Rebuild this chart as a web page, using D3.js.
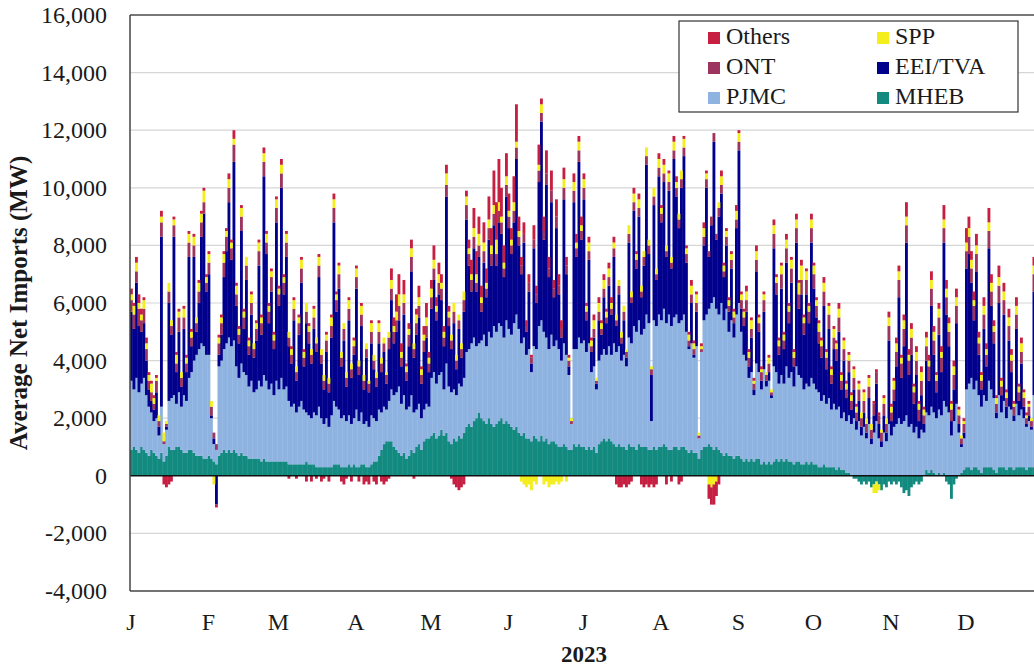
<!DOCTYPE html>
<html>
<head>
<meta charset="utf-8">
<script src="https://cdn.jsdelivr.net/npm/d3@7"></script>
<style>
  body { margin: 0; background: #fff; }
  svg text { font-family: "Times New Roman", "Liberation Serif", Tinos, "DejaVu Serif", serif; fill: #1a1a1a; }
</style>
</head>
<body>
<svg id="chart" width="1034" height="668" font-family="Liberation Serif, serif"></svg>
<script>
// daily average net imports by interface, MW, Jan 1 - Dec 31 2023
var mheb = [
  900,1000,900,800,1000,900,800,700,900,800,700,600,800,500,700,1000,900,900,1000,1000,900,800,800,900,900,800,700,700,700,600,600,
  700,600,500,400,700,800,900,800,900,800,900,800,700,800,700,700,600,600,600,600,600,500,600,500,500,500,500,500,
  500,500,500,500,400,400,400,400,400,400,400,500,400,400,400,300,300,300,300,300,300,300,400,400,400,300,300,300,400,300,400,
  300,300,400,400,300,300,400,500,500,700,900,1100,1200,1200,1200,1000,900,800,700,800,600,700,900,800,1000,1100,900,1200,1300,1300,
  1400,1500,1300,1400,1600,1400,1500,1200,1100,1300,1200,1400,1300,1500,1700,1800,1700,1900,2000,2200,2000,1900,1800,2000,1800,1700,1800,1900,2000,1800,1900,
  1800,1700,1600,1700,1500,1400,1500,1300,1300,1200,1400,1300,1200,1400,1200,1300,1100,1200,1200,1100,1000,1000,1100,1000,900,900,1100,1000,1100,1000,
  1000,900,1000,900,1000,800,1100,1200,1300,1200,1300,1200,1100,1000,1100,1000,1000,900,1100,1000,1000,900,1100,1000,1000,1000,900,900,1000,900,1000,
  1000,1100,1000,900,900,1000,1000,900,1000,1000,900,800,900,800,800,600,900,1000,1000,1100,1000,900,1000,900,800,700,800,700,700,600,700,
  700,600,500,600,500,600,500,600,600,400,500,400,500,400,500,600,500,600,500,600,500,500,400,500,500,400,400,500,400,500,
  400,400,300,300,400,300,300,300,300,200,300,200,200,100,100,0,-100,-100,-200,-300,-200,-300,-200,-400,-300,-200,-300,-500,-300,-400,-200,
  -300,-200,-300,-200,-400,-600,-500,-700,-400,-300,-200,-300,-200,0,200,100,200,100,0,100,0,100,-200,-300,-800,-300,-100,0,100,200,
  300,300,200,300,300,200,100,300,300,300,300,200,100,300,300,300,200,300,300,200,300,300,300,300,200,300,300,300,300,300,300
];
var pjmc = [
  2400,2000,2500,2100,2200,2500,2000,1700,1300,1100,1300,800,1600,600,900,1600,1800,1900,1500,1900,1500,2000,1800,2500,2700,3200,3500,3700,3900,3900,3600,
  3500,1400,600,500,3100,3200,3500,3800,3900,3700,3800,3000,2700,3100,2900,2800,2500,2700,2300,2400,2700,2600,2900,2800,2500,2700,2300,2800,
  2500,2900,2500,2600,2200,2000,2100,1800,2000,2200,1900,1700,1700,1600,1800,1800,2100,1700,1500,1700,1400,1800,2200,2000,1900,1700,1800,1600,1700,1500,1600,
  2000,1600,1800,1400,1600,1400,1700,1500,1400,1600,1300,1300,1100,1400,1800,1800,2000,2300,1800,2000,1700,1700,1900,1400,1300,1400,1100,1100,1200,1100,
  2000,2100,1900,2100,2000,1600,2400,1900,1800,1700,1600,1800,1800,1900,2600,2600,2900,2900,2500,2400,2700,3000,2700,3000,3000,3500,3200,3400,3200,3000,3500,
  3300,3200,3700,3900,3600,3200,3300,2900,3100,2400,3100,3100,4000,4000,3800,3500,3300,3700,3300,3600,3400,3000,3500,3200,2600,900,3300,3400,3700,3600,
  3700,3400,3600,2700,2800,2200,2900,3000,3100,3000,3200,3000,3500,3300,3400,3000,3200,2900,3700,3600,4200,4100,4300,3900,4100,4600,4400,1000,4400,4300,4600,
  4400,4700,4300,4700,4300,4500,4600,4400,4400,4600,4100,3600,3700,3300,3700,700,3400,4400,4600,4700,5000,5300,4800,4700,5200,4700,5000,4300,4700,4200,4900,
  5300,4400,3700,3400,2900,3000,2300,3300,3000,2600,3200,2700,2800,2300,3300,3000,2700,2900,2700,3200,2900,3100,2700,3300,3000,3000,2600,2700,2700,2900,
  2800,2600,2600,2300,2400,2200,2400,2000,2200,2100,2100,1800,2000,1800,2000,1800,2000,1600,1900,1400,1700,1300,1800,1100,1500,1900,1300,1000,1500,1200,1800,
  1400,1700,1800,2000,1800,1900,2100,1700,1800,1500,1700,1300,1600,1500,2000,2000,2200,2100,2000,2200,2100,2500,2400,2200,1400,1900,2500,1500,900,1100,
  2700,2900,3200,2700,3000,2600,2300,2500,2300,3000,2700,2500,1900,2500,1900,2300,1800,2100,2000,1700,2200,1800,2000,1700,1500,1600,1300,2500,2400,2600,2300
];
var eeiTva = [
  2400,2100,3300,2300,1800,1900,1200,600,400,400,900,300,5900,0,100,3400,2200,5500,1100,2100,700,2300,1000,4200,900,3600,800,1600,3700,4600,2200,
  2800,100,200,-1000,400,900,2500,3200,4700,3000,6200,2100,1200,4600,1500,3300,1100,2300,1200,1700,4000,1800,6900,4400,2300,3200,1600,5500,
  2900,6600,3300,4500,1900,1500,2900,1100,2500,4100,1500,3100,2500,1900,2900,2200,4500,1900,1200,2300,1200,2700,6200,3300,4200,1800,2600,1200,3300,1600,2200,
  4200,1600,3000,1200,2200,1200,2500,1700,1200,2300,1400,1900,900,1800,3100,1800,2100,2300,1300,2800,1000,2100,4300,1900,2600,3000,1200,2000,2300,1200,
  2400,3200,2200,2800,2500,1500,5800,2100,1500,2300,900,1900,1000,2300,4600,2900,1800,3100,1900,3000,1000,2500,1700,3200,2500,3500,2300,3500,3200,2100,4300,
  3500,2800,3500,5400,2900,2400,3300,800,2000,300,3400,1600,5000,6900,3200,5300,2500,4600,1700,3900,1900,800,5000,2800,300,0,5100,3200,6100,3600,
  4900,1100,2900,700,1000,200,1400,700,1800,1100,2100,1400,3000,900,1800,600,1200,300,3300,1400,4000,2200,3600,1300,2200,5200,2400,1600,4000,1600,4800,
  3400,4400,2300,4300,2000,5500,4100,3300,4600,5500,2400,100,1400,100,1200,0,0,2600,4400,1800,2700,5400,2400,3400,3800,1500,2200,700,1800,500,3000,
  5300,800,1000,1700,400,1200,200,3200,1400,300,2000,200,300,100,4100,2700,1000,3000,1200,3600,1900,3100,700,4300,2300,2900,1900,3100,2200,4700,
  3300,2500,1700,1500,3100,1200,2400,900,1900,1700,2600,1000,1800,800,1500,500,1000,300,700,300,500,200,900,200,600,1300,500,200,600,300,2900,
  500,900,2000,4200,1600,2600,6000,1800,2400,1000,1800,600,1200,300,1800,1200,3500,2000,900,2600,1500,5500,3200,2300,500,1100,2800,300,100,200,
  4200,4500,3300,2400,3800,1400,600,2300,1200,4600,2900,1900,200,3200,600,3000,400,2300,1300,200,2600,500,1600,400,100,200,100,3600,2800,3700,1700
];
var ont = [
  400,500,400,600,400,500,400,300,300,200,400,200,500,100,100,400,300,400,300,500,300,400,300,500,300,400,300,400,500,400,300,
  400,300,200,200,400,400,500,500,500,400,600,400,300,500,400,500,300,400,300,400,500,400,500,400,400,500,300,500,
  400,500,400,500,300,300,400,300,400,500,300,400,400,300,400,300,400,300,300,400,300,400,500,400,500,300,400,300,400,300,300,
  400,300,400,300,300,300,400,300,300,400,300,300,300,400,400,400,400,500,300,400,300,400,500,300,400,400,300,400,400,300,
  400,400,300,400,400,300,400,300,300,400,300,300,300,400,500,400,400,400,300,400,300,400,300,400,400,400,400,400,400,300,400,
  400,300,400,400,300,300,300,200,300,200,300,300,400,300,300,400,300,400,300,400,300,300,400,300,200,100,400,300,400,300,
  400,300,300,200,300,100,300,200,300,200,300,200,300,200,300,200,300,200,300,200,300,300,300,200,300,300,300,200,300,200,300,
  300,300,200,300,200,300,300,300,300,300,300,200,300,200,300,100,100,300,300,200,300,300,200,300,300,200,300,200,300,200,300,
  300,300,300,400,300,300,200,400,300,300,400,200,300,100,500,400,300,500,300,500,400,500,300,500,500,500,400,500,400,500,
  500,400,400,400,500,400,500,300,400,400,500,300,400,300,400,300,400,300,400,300,400,300,400,300,400,400,300,300,400,300,500,
  300,400,500,600,500,600,600,500,600,400,500,400,500,300,500,500,600,500,400,600,500,500,600,500,400,500,600,300,200,300,
  600,600,500,500,600,400,300,500,400,600,500,400,300,600,300,500,300,500,400,300,500,300,400,300,200,300,200,600,500,600,500
];
var spp = [
  200,300,300,200,200,300,200,200,300,200,100,200,200,300,100,300,200,200,300,200,200,300,200,300,200,300,200,300,300,400,200,
  300,200,-300,0,200,200,300,200,300,200,200,300,200,300,200,300,200,300,200,200,300,200,300,300,200,200,200,300,
  200,300,200,300,200,200,300,200,200,300,200,300,200,200,300,200,300,200,200,200,200,300,300,200,300,200,200,200,300,200,200,
  300,200,300,200,200,100,300,200,200,300,200,200,100,200,300,200,300,400,200,300,200,200,300,200,300,300,200,200,300,200,
  300,300,200,300,200,200,400,200,200,300,200,200,200,300,300,200,200,300,300,400,200,300,200,300,300,300,500,300,200,200,300,
  200,200,300,200,200,-200,-300,-400,-300,-500,-200,-300,200,300,-300,-200,-400,-300,-300,-200,-300,-200,300,-200,100,100,300,200,300,200,
  300,200,300,200,300,100,300,200,300,200,300,200,200,200,200,200,200,100,300,200,300,200,300,200,200,300,200,100,300,200,300,
  200,300,200,300,200,300,200,200,300,300,200,200,300,200,300,100,100,300,200,-300,-400,-300,-200,200,300,200,200,200,200,200,300,
  300,200,200,300,200,300,100,300,200,100,200,100,200,100,300,200,200,300,200,300,200,300,200,300,400,500,200,300,200,300,
  300,200,300,200,300,200,300,200,300,200,300,200,300,200,200,200,300,200,200,200,300,200,300,200,-300,-400,-200,100,200,200,300,
  200,300,300,300,200,300,300,200,300,200,300,200,300,200,300,200,300,300,200,300,200,300,300,300,200,300,300,200,100,100,
  300,300,300,200,300,200,200,300,200,300,300,200,200,300,200,300,200,300,200,100,300,200,300,200,100,100,100,300,300,300,200
];
var others = [
  200,100,200,300,200,100,200,100,100,100,100,0,200,-300,-400,-300,-200,100,100,100,0,100,100,100,100,100,0,100,100,100,100,
  100,0,0,-100,100,100,100,100,200,100,300,100,100,100,100,0,100,100,0,100,100,100,200,100,100,100,100,100,
  100,200,100,100,-100,100,100,-100,100,100,100,-200,100,-200,100,-100,100,-200,-100,100,-200,100,200,100,100,-200,-300,-100,100,-200,100,
  100,-200,100,-300,-200,-300,100,-200,-300,100,-200,-300,-200,-100,400,300,600,700,300,500,100,200,300,-100,200,400,100,300,500,200,
  300,500,300,400,300,200,300,200,-100,-300,-400,-500,-400,-300,200,300,500,700,800,600,400,700,500,800,600,1200,1300,1500,1000,600,800,
  600,400,900,1300,500,300,400,200,300,100,500,300,700,200,500,800,400,700,300,600,400,300,400,300,100,0,300,300,200,300,
  200,100,200,100,200,0,200,100,200,100,200,200,200,-300,-400,-400,-300,-400,-300,-200,200,100,200,-300,-400,-300,-400,-300,-400,-300,200,
  100,200,-300,100,-200,200,200,-300,-200,100,100,100,200,100,100,0,100,200,100,-500,-600,-700,-500,-300,200,100,100,100,100,100,200,
  100,100,100,200,100,100,100,200,100,100,100,0,100,0,200,100,100,100,100,200,100,100,100,200,100,200,100,100,100,200,
  100,100,100,100,200,100,100,100,100,100,200,100,100,100,100,100,100,100,100,0,100,0,100,0,100,100,100,0,100,0,200,
  100,100,200,200,100,200,500,200,200,100,200,100,200,100,200,200,300,200,100,200,200,500,300,200,100,200,300,100,0,100,
  500,400,300,300,400,200,100,300,200,500,300,200,100,400,100,300,100,300,200,100,300,100,200,100,100,100,0,300,300,300,200
];

var monthLetters = ["J","F","M","A","M","J","J","A","S","O","N","D"];
var yTicks = [-4000,-2000,0,2000,4000,6000,8000,10000,12000,14000,16000];

var keys = ["mheb","pjmc","eeiTva","ont","spp","others"];
var names = {mheb: "MHEB", pjmc: "PJMC", eeiTva: "EEI/TVA", ont: "ONT", spp: "SPP", others: "Others"};
var colors = {
  mheb: "#128a7f",
  pjmc: "#8fb3e1",
  eeiTva: "#00008c",
  ont: "#9c345f",
  spp: "#f3ee1c",
  others: "#c61f41"
};
var series = {mheb: mheb, pjmc: pjmc, eeiTva: eeiTva, ont: ont, spp: spp, others: others};

var start = new Date(2023, 0, 1), end = new Date(2024, 0, 1);
var rows = mheb.map(function(v, i) {
  var row = {date: d3.timeDay.offset(start, i)};
  keys.forEach(function(k) { row[k] = series[k][i]; });
  return row;
});

var svg = d3.select("#chart");
var plotLeft = 130, plotTop = 15, plotBottom = 591, plotRight = 1034;

var x = d3.scaleTime().domain([start, end]).range([plotLeft, plotLeft + 365 * 2.5]);
var y = d3.scaleLinear().domain([-4000, 16000]).range([plotBottom, plotTop]);

svg.append("rect").attr("width", 1034).attr("height", 668).attr("fill", "#fff");

svg.append("clipPath").attr("id", "plotclip")
  .append("rect").attr("x", plotLeft).attr("y", plotTop)
  .attr("width", plotRight - plotLeft).attr("height", plotBottom - plotTop);

// grid
svg.append("g").selectAll("line")
  .data(yTicks.filter(function(t) { return t !== 0 && t !== -4000 && t !== 16000; }))
  .enter().append("line")
  .attr("x1", plotLeft).attr("x2", plotRight)
  .attr("y1", function(d) { return y(d); }).attr("y2", function(d) { return y(d); })
  .attr("stroke", "#d6d6d6").attr("stroke-width", 1.2);

var stack = d3.stack().keys(keys).offset(d3.stackOffsetDiverging);
var layers = stack(rows);

var plot = svg.append("g").attr("clip-path", "url(#plotclip)");
plot.selectAll("g.layer")
  .data(layers)
  .enter().append("g")
  .attr("class", "layer")
  .attr("fill", function(d) { return colors[d.key]; })
  .selectAll("rect")
  .data(function(d) { return d; })
  .enter().append("rect")
  .attr("x", function(d) { return x(d.data.date); })
  .attr("width", function(d) { return x(d3.timeDay.offset(d.data.date, 1)) - x(d.data.date) + 0.35; })
  .attr("y", function(d) { return y(Math.max(d[0], d[1])); })
  .attr("height", function(d) { return Math.abs(y(d[0]) - y(d[1])); });

// zero line and frame
svg.append("line").attr("x1", plotLeft).attr("x2", plotRight).attr("y1", y(0)).attr("y2", y(0))
  .attr("stroke", "#111").attr("stroke-width", 1.5);
svg.append("line").attr("x1", plotLeft).attr("x2", plotRight).attr("y1", plotTop).attr("y2", plotTop)
  .attr("stroke", "#777").attr("stroke-width", 2);
svg.append("line").attr("x1", plotLeft).attr("x2", plotRight).attr("y1", plotBottom).attr("y2", plotBottom)
  .attr("stroke", "#444").attr("stroke-width", 1.5);
svg.append("line").attr("x1", plotLeft).attr("x2", plotLeft).attr("y1", plotTop).attr("y2", plotBottom)
  .attr("stroke", "#444").attr("stroke-width", 1.5);

// y tick labels
svg.append("g").selectAll("text")
  .data(yTicks)
  .enter().append("text")
  .attr("x", 107)
  .attr("y", function(d) { return y(d) + 8; })
  .attr("text-anchor", "end")
  .style("font-size", "24px")
  .text(function(d) { return d3.format(",")(d).replace("\u2212", "-"); });

// month labels
svg.append("g").selectAll("text")
  .data(d3.timeMonth.range(start, end))
  .enter().append("text")
  .attr("x", function(d) { return x(d) + 1; })
  .attr("y", 630)
  .attr("text-anchor", "middle")
  .style("font-size", "24px")
  .text(function(d, i) { return monthLetters[i]; });

svg.append("text")
  .attr("x", 584).attr("y", 662)
  .attr("text-anchor", "middle")
  .style("font-size", "23px").style("font-weight", "bold")
  .text("2023");

svg.append("text")
  .attr("transform", "translate(27,303) rotate(-90)")
  .attr("text-anchor", "middle")
  .style("font-size", "25px").style("font-weight", "bold")
  .text("Average Net Imports (MW)");

// legend
var legendRows = [["others", "spp"], ["ont", "eeiTva"], ["pjmc", "mheb"]];
var legend = svg.append("g");
legend.append("rect")
  .attr("x", 679).attr("y", 21).attr("width", 339).attr("height", 91)
  .attr("fill", "#fff").attr("stroke", "#333").attr("stroke-width", 1.2);
legendRows.forEach(function(row, r) {
  row.forEach(function(k, c) {
    var lx = c === 0 ? 708 : 877, ly = 32 + r * 30;
    legend.append("rect").attr("x", lx).attr("y", ly).attr("width", 12).attr("height", 12)
      .attr("fill", colors[k]);
    legend.append("text").attr("x", lx + 18).attr("y", ly + 12)
      .style("font-size", "24px")
      .text(names[k]);
  });
});
</script>
</body>
</html>
